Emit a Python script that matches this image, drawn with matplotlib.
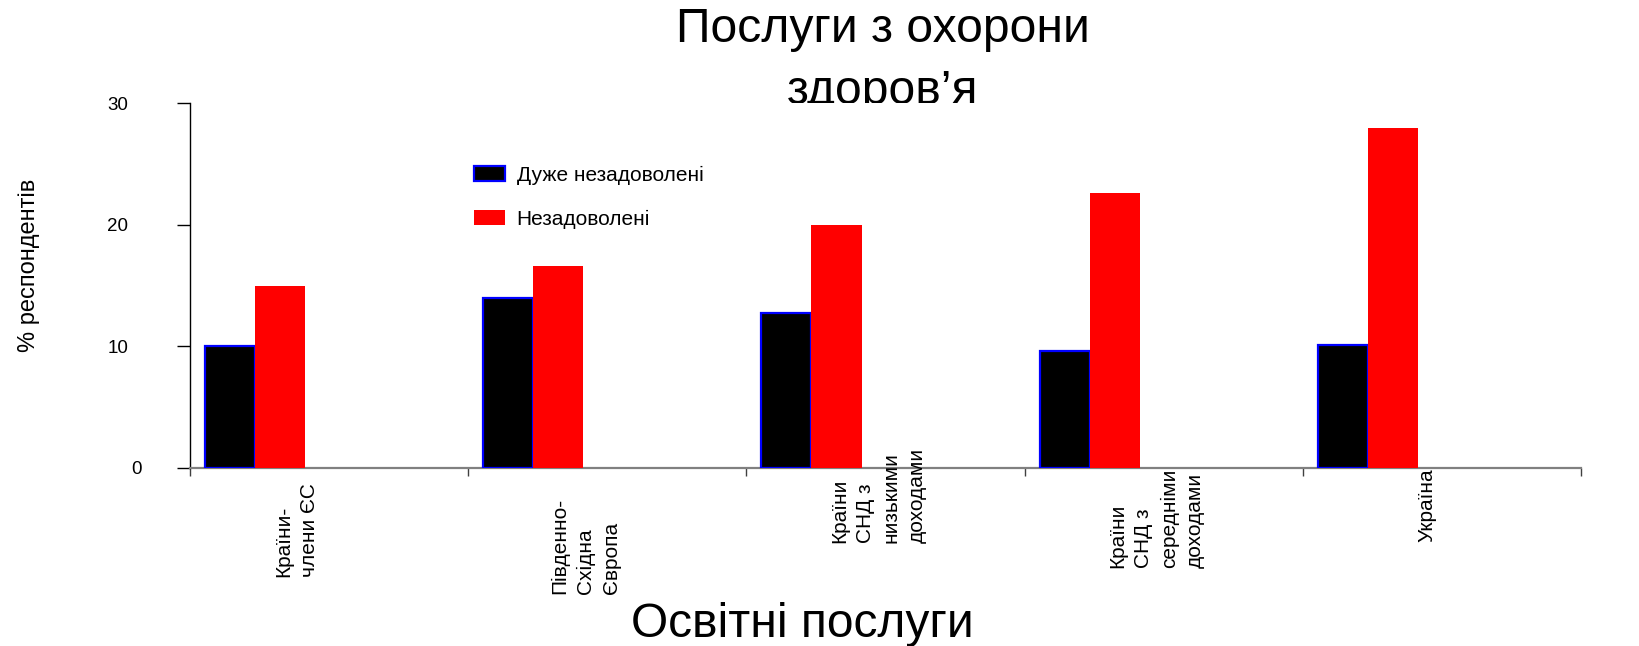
import matplotlib
matplotlib.use("Agg")
import matplotlib.pyplot as plt
import matplotlib.transforms as mtransforms
import numpy as np

plt.rcParams['font.family'] = ['Liberation Sans', 'DejaVu Sans']

# Data
regions = [
    "Країни-\nчлени ЄС",
    "Південно-\nСхідна\nЄвропа",
    "Країни\nСНД з\nнизькими\nдоходами",
    "Країни\nСНД з\nсередніми\nдоходами",
    "Україна",
]
very_dissatisfied = [10.0, 14.0, 12.7, 9.6, 10.1]
dissatisfied = [15.0, 16.6, 20.0, 22.6, 28.0]
series_names = ["Дуже незадоволені", "Незадоволені"]
y_ticks = [0, 10, 20, 30]

# Layout of the category labels (horizontal shift from category centre,
# vertical anchor of the line starts in axes fraction)
label_dx = [-0.115, -0.077, -0.025, -0.025, -0.054]
label_y = [-0.300, -0.347, -0.207, -0.275, -0.204]

W, H = 1639, 646
fig = plt.figure(figsize=(W / 100, H / 100), dpi=100)
ax = fig.add_axes([190 / W, 1 - 467.7 / H, (1581 - 190) / W, (467.7 - 103.3) / H])

x = np.arange(len(regions))
bar_w = 0.18
b1 = ax.bar(x + 0.054, very_dissatisfied, width=bar_w, align='edge',
            color='black', edgecolor='#0000ff', linewidth=1.6, zorder=3,
            label=series_names[0])
b2 = ax.bar(x + 0.054 + bar_w, dissatisfied, width=bar_w, align='edge',
            color='#ff0000', linewidth=0, zorder=3, label=series_names[1])

ax.set_xlim(0, len(regions))
ax.set_ylim(0, 30)

for s in ('top', 'right'):
    ax.spines[s].set_visible(False)
ax.spines['left'].set_color('black')
ax.spines['left'].set_linewidth(1.0)
ax.spines['bottom'].set_color('#808080')
ax.spines['bottom'].set_linewidth(1.6)

ax.set_yticks(y_ticks)
ax.set_yticklabels([str(v) for v in y_ticks])
ax.tick_params(axis='y', direction='out', length=9.5, width=1.0, color='black',
               pad=35, labelsize=13.5)
ax.set_xticks(np.arange(len(regions) + 1))
ax.set_xticklabels([])
ax.tick_params(axis='x', direction='out', length=6, width=1.0, color='#404040')

# the zero label sits a little further right
for lab in ax.get_yticklabels():
    if lab.get_text() == '0':
        lab.set_transform(lab.get_transform() +
                          mtransforms.ScaledTranslation(14 / 100, 0, fig.dpi_scale_trans))

ax.set_ylabel("% респондентів", fontsize=17)
ax.yaxis.set_label_coords(-(190 - 40) / (1581 - 190), 1 - (265 - 103.3) / (467.7 - 103.3))

trans = mtransforms.blended_transform_factory(ax.transData, ax.transAxes)
for i, name in enumerate(regions):
    ax.text(i + 0.5 + label_dx[i], label_y[i], name, transform=trans,
            rotation=90, ha='center', va='bottom', multialignment='left',
            fontsize=15, linespacing=1.45)

leg = ax.legend(handles=[b1, b2], loc='upper left',
                bbox_to_anchor=(474 / W, 1 - 166 / H), bbox_transform=fig.transFigure,
                frameon=False, fontsize=15, handlelength=1.5, handleheight=0.72,
                handletextpad=0.55, labelspacing=1.2, borderpad=0, borderaxespad=0)

# Title sits behind the plot area
fig.text(883 / W, 1 - 7 / H, "Послуги з охорони\nздоров’я", ha='center', va='top',
         fontsize=34.6, linespacing=1.5, zorder=-1)

fig.text(802 / W, 1 - 637 / H, "Освітні послуги", ha='center', va='baseline',
         fontsize=34.5)

fig.savefig("out.png", dpi=100)
